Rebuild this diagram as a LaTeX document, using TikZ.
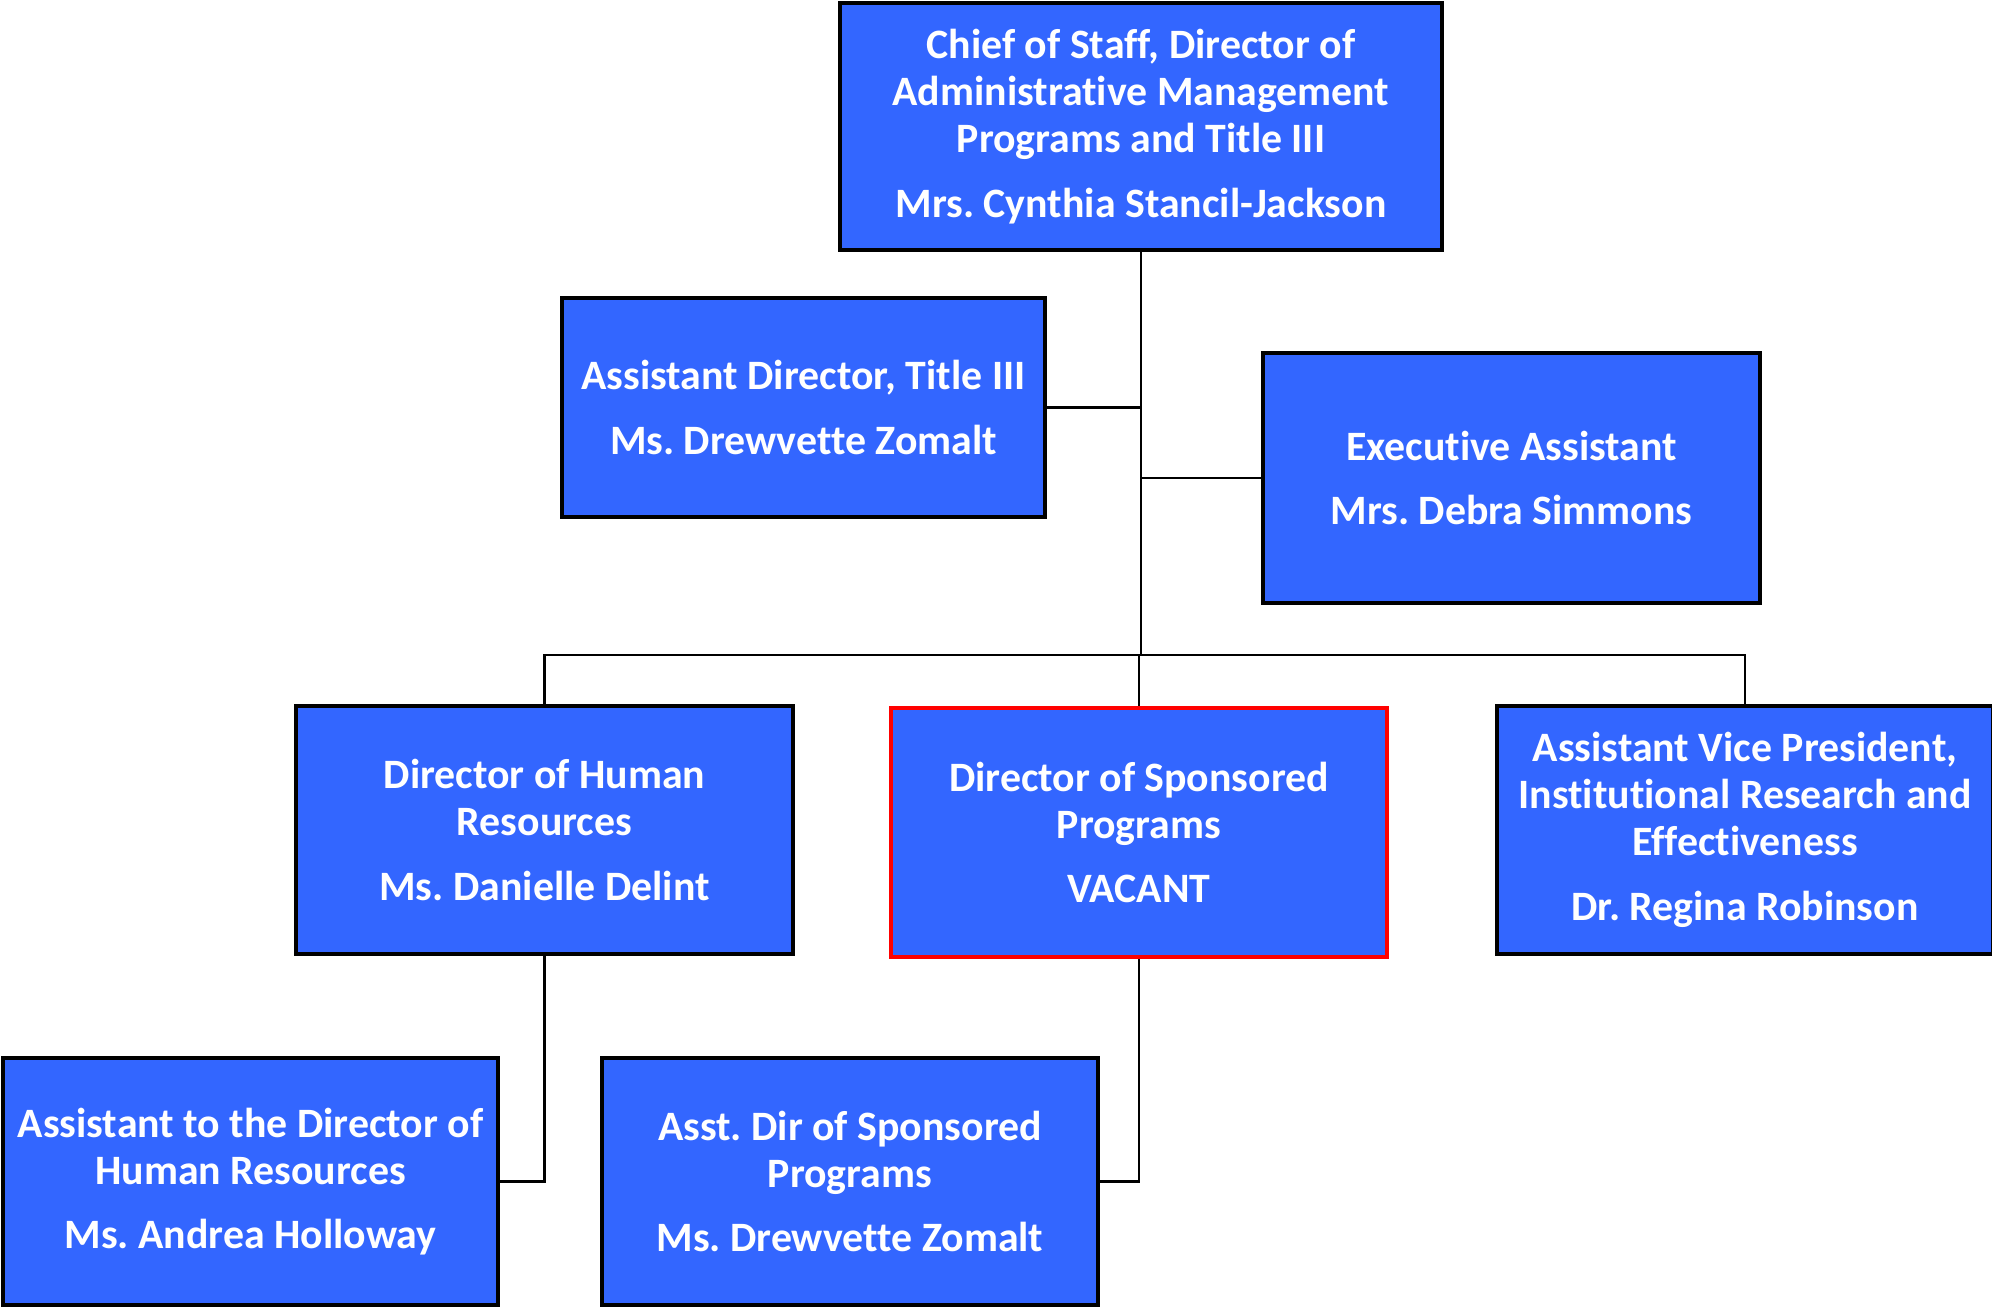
\documentclass[tikz,border=0pt]{standalone}
\usepackage{fontspec}
\setmainfont[Ligatures=NoCommon]{Carlito}
\definecolor{boxblue}{RGB}{51,102,255}
\frenchspacing

\begin{document}
\begin{tikzpicture}[auto,
    position/.style ={rectangle, draw, line width=1.2pt, fill=boxblue, text=white,
      font=\bfseries\fontsize{11.9}{13.4}\selectfont, align=center, inner sep=0pt},
    vacancy/.style ={position, draw=red},
    link/.style ={line width=0.6pt}]
   \useasboundingbox (0,0) rectangle (19.92,-13.07);
   \node[position, minimum width=6.02cm, minimum height=2.47cm] (A) at (11.41,-1.265)
     {Chief of Staff, Director of\\Administrative Management\\Programs and Title III\\[5pt]Mrs. Cynthia Stancil-Jackson};
   \node[position, minimum width=4.83cm, minimum height=2.19cm] (B) at (8.035,-4.075)
     {Assistant Director, Title III\\[5pt]Ms. Drewvette Zomalt};
   \node[position, minimum width=4.97cm, minimum height=2.50cm] (C) at (15.115,-4.78)
     {Executive Assistant\\[5pt]Mrs. Debra Simmons};
   \node[position, minimum width=4.97cm, minimum height=2.48cm] (D) at (5.445,-8.30)
     {Director of Human\\Resources\\[5pt]Ms. Danielle Delint};
   \node[vacancy, minimum width=4.96cm, minimum height=2.49cm] (E) at (11.39,-8.325)
     {Director of Sponsored\\Programs\\[5pt]VACANT};
   \node[position, minimum width=4.96cm, minimum height=2.48cm] (F) at (17.45,-8.30)
     {Assistant Vice President,\\Institutional Research and\\Effectiveness\\[5pt]Dr. Regina Robinson};
   \node[position, minimum width=4.95cm, minimum height=2.47cm] (G) at (2.505,-11.815)
     {Assistant to the Director of\\Human Resources\\[5pt]Ms. Andrea Holloway};
   \node[position, minimum width=4.96cm, minimum height=2.47cm] (H) at (8.50,-11.815)
     {Asst. Dir of Sponsored\\Programs\\[5pt]Ms. Drewvette Zomalt};
   \coordinate (J) at (11.41,-6.55);
   \draw[link] (A) -- (J);
   \draw[link] (B.east) -- (B.east -| J);
   \draw[link] (C.west) -- (C.west -| J);
   \draw[link] (D.north) |- (J) -| (F.north);
   \draw[link] (E.north) -- (E.north |- J);
   \draw[link] (D.south) |- (G.east);
   \draw[link] (E.south) |- (H.east);
\end{tikzpicture}
\end{document}
